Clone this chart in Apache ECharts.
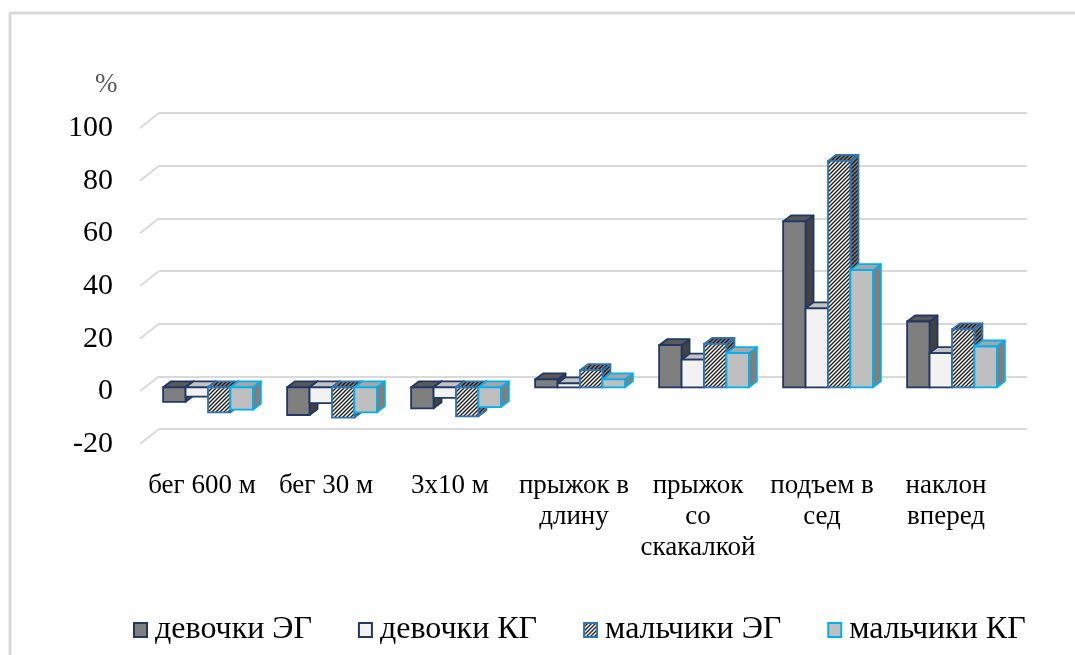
<!DOCTYPE html>
<html>
<head>
<meta charset="utf-8">
<script src="https://cdn.jsdelivr.net/npm/echarts@6/dist/echarts.min.js"></script>
<style>
html,body{margin:0;padding:0;background:#fff}
#chart{width:1075px;height:655px}
</style>
</head>
<body>
<div id="chart"></div>
<script>
const categories = ['бег 600 м', 'бег 30 м', '3х10 м', 'прыжок в\nдлину', 'прыжок\nсо\nскакалкой', 'подъем в\nсед', 'наклон\nвперед'];
const seriesNames = ['девочки ЭГ', 'девочки КГ', 'мальчики ЭГ', 'мальчики КГ'];
const girlsEG = [-5.5, -10.5, -8, 3, 16, 63, 25];
const girlsKG = [-3.5, -6, -4, 1.5, 10.5, 30, 13];
const boysEG = [-9.5, -11.5, -11, 6.5, 16.5, 86, 22];
const boysKG = [-8.5, -9.5, -7.5, 3, 13, 44.5, 15.5];
const yTicks = [-20, 0, 20, 40, 60, 80, 100];

const FONT = '"Liberation Serif", "Times New Roman", serif';

function hatch(bg, fg, s, w) {
    const c = document.createElement('canvas');
    c.width = c.height = s;
    const ctx = c.getContext('2d');
    ctx.fillStyle = bg;
    ctx.fillRect(0, 0, s, s);
    ctx.strokeStyle = fg;
    ctx.lineWidth = w;
    ctx.beginPath();
    ctx.moveTo(0, s); ctx.lineTo(s, 0);
    ctx.moveTo(-s / 2, s / 2); ctx.lineTo(s / 2, -s / 2);
    ctx.moveTo(s / 2, s * 1.5); ctx.lineTo(s * 1.5, s / 2);
    ctx.stroke();
    return {image: c, repeat: 'repeat'};
}

const hatchFront = hatch('#ffffff', '#1e1e1e', 4, 1.4);
const hatchDark = hatch('#808080', '#1e1e1e', 4, 1.4);

// faces: front, top, side, border
const looks = [
    {front: '#7f7f7f', top: '#595959', side: '#424242', border: '#1f3864'},
    {front: '#f2f2f2', top: '#c4c4c4', side: '#a6a6a6', border: '#1f3864'},
    {front: hatchFront, top: hatchDark, side: hatchDark, border: '#2e75b6'},
    {front: '#bfbfbf', top: '#a6a6a6', side: '#7f7f7f', border: '#00b0f0'}
];

function bar3d(k) {
    const f = looks[k];
    return function (params, api) {
        const cat = api.value(0), v = api.value(1);
        const top = api.coord([cat, v]);
        const base = api.coord([cat, 0]);
        const band = api.size([1, 0])[0];
        const bw = band * 0.181;
        const x0 = top[0] - 2 * bw + k * bw, x1 = x0 + bw;
        const y0 = Math.min(top[1], base[1]), y1 = Math.max(top[1], base[1]);
        const dx = 8, dy = -6, lw = 1.8;
        return {
            type: 'group',
            children: [
                {type: 'polygon', shape: {points: [[x1, y0], [x1 + dx, y0 + dy], [x1 + dx, y1 + dy], [x1, y1]]},
                    style: {fill: f.side, stroke: f.border, lineWidth: lw, lineJoin: 'round'}},
                {type: 'polygon', shape: {points: [[x0, y0], [x1, y0], [x1 + dx, y0 + dy], [x0 + dx, y0 + dy]]},
                    style: {fill: f.top, stroke: f.border, lineWidth: lw, lineJoin: 'round'}},
                {type: 'rect', shape: {x: x0, y: y0, width: bw, height: y1 - y0},
                    style: {fill: f.front, stroke: f.border, lineWidth: lw}}
            ]
        };
    };
}

const allValues = [girlsEG, girlsKG, boysEG, boysKG];

const chart = echarts.init(document.getElementById('chart'));
const gridW = 868, gridH = 316;

const option = {
    backgroundColor: '#fff',
    animation: false,
    title: {
        text: '%',
        left: 90,
        top: 66,
        textStyle: {fontFamily: FONT, fontSize: 27, fontWeight: 'normal', color: '#595959'}
    },
    graphic: [
        {type: 'line', shape: {x1: 9, y1: 13, x2: 1075, y2: 13}, style: {stroke: '#d9d9d9', lineWidth: 3}},
        {type: 'line', shape: {x1: 10, y1: 13, x2: 10, y2: 655}, style: {stroke: '#d9d9d9', lineWidth: 3}}
    ],
    grid: [
        // back wall (gridlines)
        {left: 159, top: 113, width: gridW, height: gridH, outerBoundsMode: 'none'},
        // bars
        {left: 146, top: 124, width: gridW, height: gridH, outerBoundsMode: 'none'},
        // front edge (labels)
        {left: 140, top: 128, width: gridW, height: gridH, outerBoundsMode: 'none'}
    ],
    xAxis: [0, 1, 2].map(i => ({
        type: 'category',
        gridIndex: i,
        data: categories,
        axisLine: {show: false},
        axisTick: {show: false},
        splitLine: {show: false},
        axisLabel: i === 2 ? {
            show: true, interval: 0, margin: 26, color: '#000',
            fontFamily: FONT, fontSize: 27, lineHeight: 31
        } : {show: false}
    })),
    yAxis: [0, 1, 2].map(i => ({
        type: 'value',
        gridIndex: i,
        min: -20, max: 100, interval: 20,
        axisLine: {show: false},
        axisTick: {show: false},
        splitLine: i === 0 ? {show: true, lineStyle: {color: '#d9d9d9', width: 2}} : {show: false},
        axisLabel: i === 2 ? {
            show: true, margin: 27, color: '#000', fontFamily: FONT, fontSize: 30
        } : {show: false}
    })),
    legend: {
        left: 128,
        top: 609,
        itemWidth: 13,
        itemHeight: 14,
        itemGap: 46,
        textStyle: {fontFamily: FONT, fontSize: 32, color: '#000', padding: [0, 0, 0, 3]},
        data: seriesNames.map((n, k) => ({
            name: n,
            icon: 'rect',
            itemStyle: {color: looks[k].front, borderColor: looks[k].border, borderWidth: 2}
        }))
    },
    series: [
        {
            type: 'custom',
            name: 'gridDiag',
            xAxisIndex: 0, yAxisIndex: 0,
            silent: true,
            data: yTicks.map(v => [0, v]),
            renderItem: function (params, api) {
                const y = api.coord([0, api.value(1)])[1];
                const x = params.coordSys.x;
                return {type: 'line', shape: {x1: x - 19, y1: y + 15, x2: x, y2: y},
                    style: {stroke: '#d9d9d9', lineWidth: 2}};
            }
        }
    ].concat(seriesNames.map((n, k) => ({
        type: 'custom',
        name: n,
        xAxisIndex: 1, yAxisIndex: 1,
        itemStyle: {color: looks[k].front, borderColor: looks[k].border},
        data: allValues[k].map((v, i) => [i, v]),
        renderItem: bar3d(k)
    })))
};
chart.setOption(option);
</script>
</body>
</html>
